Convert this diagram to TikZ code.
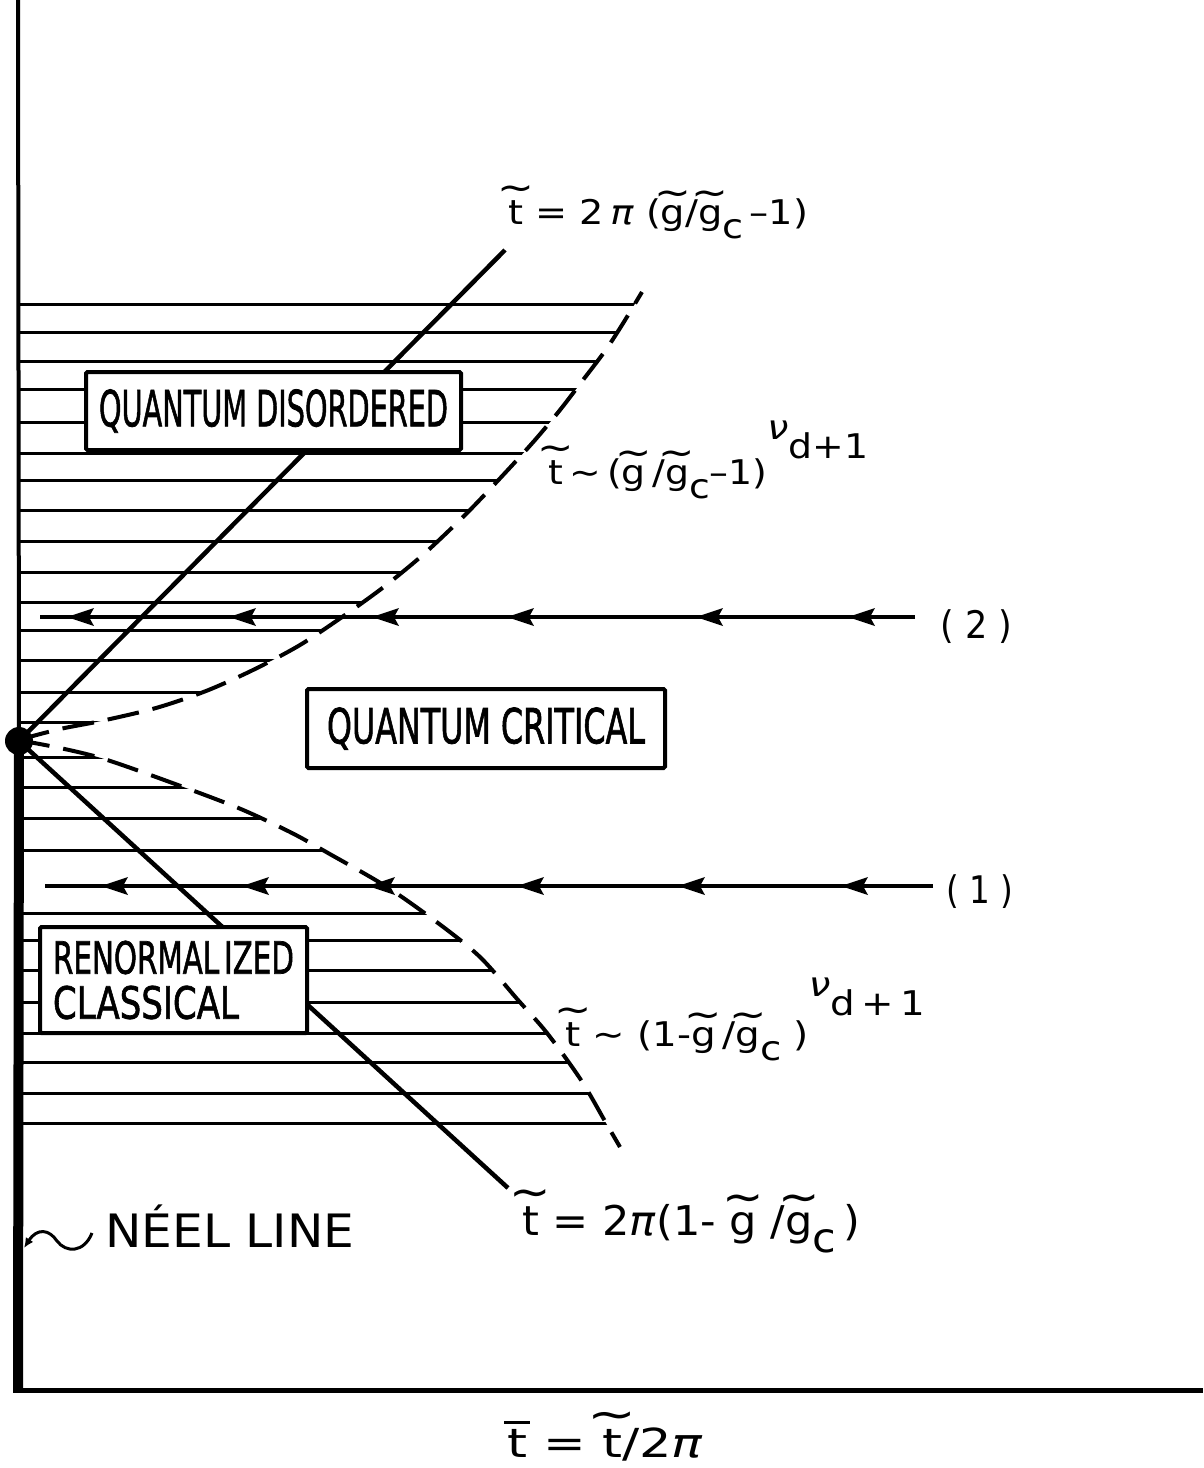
\documentclass[tikz,border=0pt]{standalone}
\usepackage{fontspec}
\setmainfont{DejaVu Sans}
\newfontfamily\medfont{DejaVu Sans}[FakeBold=1.6]
\usepackage{graphicx}
\usetikzlibrary{arrows.meta}
\newcommand\tl[1]{{\setbox0\hbox{#1}\rlap{\copy0}\makebox[\wd0][c]{\raisebox{\dimexpr\ht0-0.02em\relax}{\scalebox{1.15}[1.1]{\char"7E}}}}}
\newcommand\tbar[1]{{\setbox0\hbox{#1}\rlap{\copy0}\makebox[\wd0][c]{\raisebox{\dimexpr\ht0+0.12em\relax}{\rule{0.5em}{0.08em}}}}}
\newcommand\subc{\raisebox{-0.42em}{c}}
\newcommand\ipi{\textit{π}}
\newcommand\inu{\textit{ν}}
\begin{document}
\begin{tikzpicture}[x=1pt,y=-1pt,
  hatch/.style={line width=3pt},
  phase/.style={line width=4.5pt},
  crossover/.style={line width=4pt, dash pattern=on 32pt off 14pt},
  axis/.style={line width=4pt},
  neelaxis/.style={line width=10pt},
  flowline/.style={line width=3.5pt},
  box/.style={draw, line width=4pt, fill=white, inner sep=0pt, rounded corners=1.5pt},
  lbl/.style={inner sep=0pt, anchor=base west}]
\useasboundingbox (0,0) rectangle (1203,1468);

% hatching, clipped to the region left of the crossover curves
\begin{scope}
\clip (0,280) -- (642,280) --
  plot[smooth] coordinates {(642,292) (622,325) (605,351) (583,380) (560,410) (535,440) (505,473) (467,513) (425,553) (385,586) (345,615) (300,645) (253,670) (206,691) (156,708) (101,721) (60,729) (18,740)}
  -- plot[smooth] coordinates {(18,740) (60,748) (101,758) (156,777) (236,807) (290,832) (328,853) (387,887) (438,923) (480,957) (518,1000) (547,1033) (581,1080) (606,1123) (620,1147)}
  -- (620,1170) -- (0,1170) -- cycle;
\foreach \yy in {304,332,361,389,422,453,480,510,541,572,602,630,660,692,722,757,787,818,850,913,940,970,1002,1033,1062,1093,1123}
  \draw[hatch] (18,\yy) -- (700,\yy);
\end{scope}

% critical point and axes
\coordinate (ytop) at (18,0);
\coordinate (orig) at (18,1390);
\coordinate (xend) at (1203,1390);
\node[circle, fill, inner sep=0pt, minimum size=28pt] (qcp) at (19,741) {};
\draw[axis] (ytop) -- (qcp.center);
\draw[neelaxis] (qcp.center) -- ([yshift=2pt]orig);
\draw[axis, line width=5pt] ([xshift=-5pt]orig) -- (xend);

% crossover (dashed) curves
\draw[crossover] plot[smooth] coordinates {(18,740) (60,729) (101,721) (156,708) (206,691) (253,670) (300,645) (345,615) (385,586) (425,553) (467,513) (505,473) (535,440) (560,410) (583,380) (605,351) (622,325) (642,292)};
\draw[crossover] plot[smooth] coordinates {(18,740) (60,748) (101,758) (156,777) (236,807) (290,832) (328,853) (387,887) (438,923) (480,957) (518,1000) (547,1033) (581,1080) (606,1123) (620,1147)};

% solid lines
\coordinate (uend) at (505,250);
\coordinate (dend) at (508,1188);
\draw[phase] (qcp.center) -- (uend);
\draw[phase] (qcp.center) -- (dend);

% RG flow lines
\coordinate (a2) at (40,617);
\coordinate (b2) at (915,617);
\coordinate (a1) at (45,886);
\coordinate (b1) at (933,886);
\draw[flowline] (b2) -- (a2);
\draw[flowline] (b1) -- (a1);
\foreach \xx in {67,229,372,507,696,848}
  \fill (\xx,617) -- ++(27,-9) -- ++(-5,9) -- ++(5,9) -- cycle;
\foreach \xx in {101,242,368,517,678,841}
  \fill (\xx,886) -- ++(27,-9) -- ++(-5,9) -- ++(5,9) -- cycle;

% boxes
\node[box, minimum width=375pt, minimum height=78pt] (qd) at (273.5,411) {\resizebox{349pt}{37pt}{\medfont QUANTUM DISORDERED}};
\node[box, minimum width=358pt, minimum height=79pt] (qc) at (486,728.5) {\resizebox{318pt}{36pt}{\medfont QUANTUM CRITICAL}};
\node[box, minimum width=267pt, minimum height=106pt, align=left, font=\fontsize{30}{45}\selectfont\medfont] (rc) at (173.5,980) {\resizebox{241pt}{33pt}{RENORMAL\,IZED}\\\resizebox{186pt}{33pt}{CLASSICAL}};

% formula labels
\node[lbl, font=\fontsize{34}{38}\selectfont] (l1) at (508,224) {\resizebox{300pt}{\height}{\tl{t} = 2\,\ipi\ (\tl{g}/\tl{g}\subc\,–1)}};
\node[lbl, font=\fontsize{34}{38}\selectfont] (l2) at (548,484) {\resizebox{320pt}{\height}{\tl{t}\,∼\,(\tl{g}\,/\tl{g}\subc–1)\raisebox{1.3em}{\inu}\raisebox{0.75em}{d+1}}};
\node[lbl, font=\fontsize{34}{38}\selectfont] (l3) at (565,1046) {\resizebox{360pt}{\height}{\tl{t}\ ∼\ (1-\tl{g}\,/\tl{g}\subc\ )\raisebox{1.45em}{\inu}\raisebox{0.9em}{d\,+\,1}}};
\node[lbl, font=\fontsize{41}{44}\selectfont] (l4) at (522,1235) {\resizebox{338pt}{\height}{\tl{t} = 2\ipi(1- \tl{g} /\tl{g}\subc\,)}};
\node[lbl, font=\fontsize{40}{42}\selectfont] (xlab) at (507,1457) {\resizebox{196pt}{\height}{\tbar{t} = \tl{t}/2\ipi}};
\node[lbl, font=\fontsize{38}{40}\selectfont] (lab2) at (940,638) {\resizebox{72pt}{\height}{( 2 )}};
\node[lbl, font=\fontsize{38}{40}\selectfont] (lab1) at (946,903) {\resizebox{67pt}{\height}{( 1 )}};

% Neel line label
\node[lbl, font=\fontsize{46}{50}\selectfont] (neel) at (105,1247) {\resizebox{249pt}{\height}{N\'EEL LINE}};
\coordinate (nl1) at (92,1233);
\coordinate (nl0) at (24,1248);
\draw[line width=3pt, -{Latex[length=10pt,width=9pt]}] (nl1) .. controls (84,1253) and (66,1253) .. (57,1241) .. controls (49,1229) and (37,1228) .. (nl0);
\end{tikzpicture}
\end{document}
